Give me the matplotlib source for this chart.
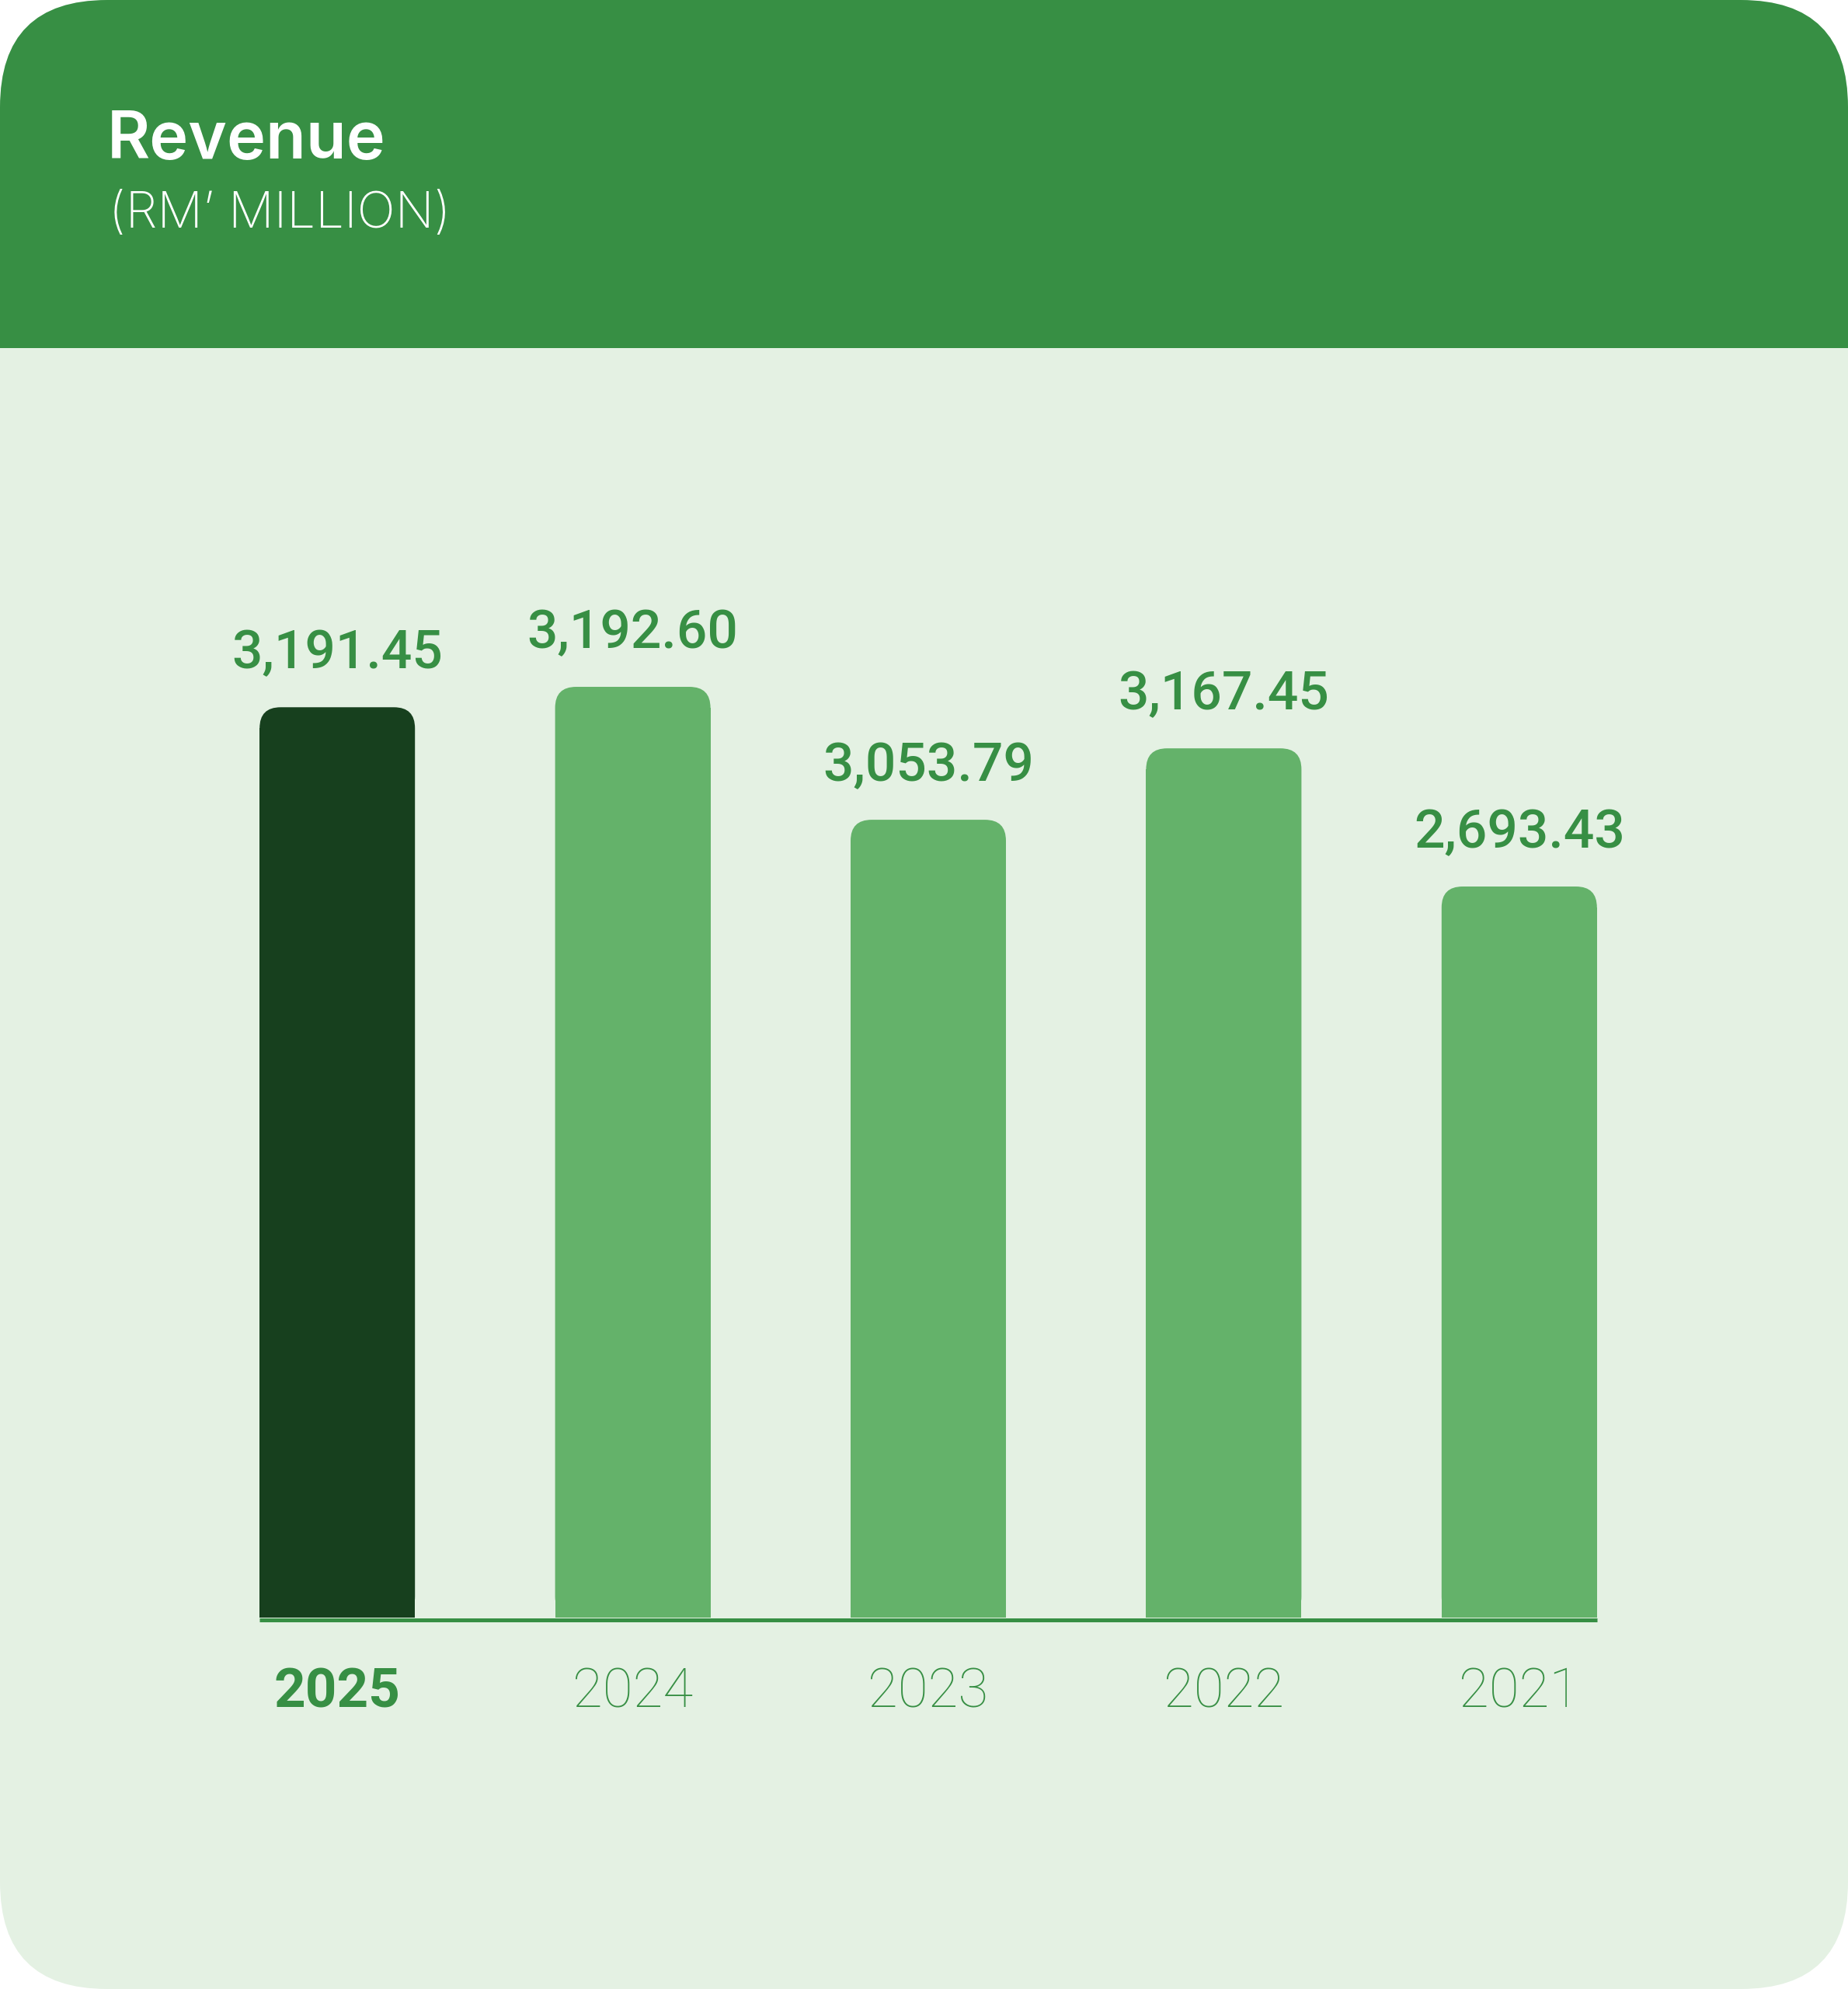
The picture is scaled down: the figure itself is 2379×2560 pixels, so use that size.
import matplotlib
matplotlib.use("Agg")
import matplotlib.pyplot as plt
from matplotlib.patches import FancyBboxPatch, Rectangle

# ---- data ----
years = ["2025", "2024", "2023", "2022", "2021"]
revenue = [3191.45, 3192.60, 3053.79, 3167.45, 2693.43]
value_labels = ["3,191.45", "3,192.60", "3,053.79", "3,167.45", "2,693.43"]
# bar heights as drawn in the reference (not strictly to scale), RM million
drawn_heights = [3123, 3193, 2737, 2982, 2508]
highlight = [True, False, False, False, False]

title = "Revenue"
subtitle = "(RM\u2019 MILLION)"

# ---- style ----
HEADER = "#378F44"
BG = "#E4F1E3"
DARK = "#17401E"
LIGHT = "#64B26A"
TEXT = "#378F44"

W, H = 2379, 2560
DPI = 100
fig = plt.figure(figsize=(W / DPI, H / DPI), dpi=DPI, facecolor="white")

# background card
bg = fig.add_axes([0, 0, 1, 1])
bg.set_xlim(0, W)
bg.set_ylim(0, H)
bg.axis("off")
R = 138
bg.add_patch(FancyBboxPatch((0, 0), W, H, boxstyle=f"round,pad=0,rounding_size={R}",
                            fc=BG, ec="none"))
hdr_bottom = H - 448
bg.add_patch(FancyBboxPatch((0, hdr_bottom), W, H - hdr_bottom,
                            boxstyle=f"round,pad=0,rounding_size={R}", fc=HEADER, ec="none"))
bg.add_patch(Rectangle((0, hdr_bottom), W, R + 10, fc=HEADER, ec="none"))

bg.text(138, H - 204, title, color="white", fontsize=61, fontfamily="Inter",
        fontweight="semibold", va="baseline", ha="left")
bg.text(140, H - 293, subtitle, color="white", fontsize=47, fontfamily="Inter",
        fontweight="light", va="baseline", ha="left")

# chart axes
left_px, right_px = 244, 2146
base_px = 2082  # from top
top_px = 600
ax = fig.add_axes([left_px / W, (H - base_px) / H, (right_px - left_px) / W,
                   (base_px - top_px) / H])
ax.set_facecolor("none")
ax.axis("off")
ax.set_xlim(-0.5, len(years) - 0.5)
ymax = 3950
ax.set_ylim(0, ymax)

x = list(range(len(years)))
width = 200 / ((right_px - left_px) / len(years))
colors = [DARK if h else LIGHT for h in highlight]
bars = ax.bar(x, drawn_heights, width=width, color=colors, zorder=2)

# convert a 27 px corner radius into data units
px_x = (len(years)) / (right_px - left_px)
px_y = ymax / (base_px - top_px)
rx = 27 * px_x
ry = 27 * px_y
for b, c in zip(bars, colors):
    bx, bw, bh = b.get_x(), b.get_width(), b.get_height()
    b.set_height(bh - ry)
    ax.add_patch(FancyBboxPatch((bx, 0), bw, bh,
                                boxstyle=f"round,pad=0,rounding_size={rx}",
                                mutation_aspect=ry / rx, fc=c, ec="none", zorder=2))

# baseline
ax.plot([x[0] - width / 2, x[-1] + width / 2], [-2.5 * px_y, -2.5 * px_y],
        color=HEADER, lw=5 * 72 / DPI, solid_capstyle="butt", clip_on=False, zorder=3)

# value labels
for xi, h, lab in zip(x, drawn_heights, value_labels):
    ax.annotate(lab, xy=(xi, h), xytext=(0, 50 * 72 / DPI), textcoords="offset points",
                ha="center", va="baseline", color=TEXT, fontsize=50,
                fontfamily="Roboto", fontweight="medium")

# year labels
for xi, yr, hl in zip(x, years, highlight):
    ax.annotate(yr, xy=(xi, 0), xytext=(0, -116 * 72 / DPI), textcoords="offset points",
                ha="center", va="baseline", color=TEXT, fontsize=51,
                fontfamily="Roboto", fontweight="bold" if hl else "light",
                annotation_clip=False)

fig.savefig("out.png", dpi=DPI, facecolor="white")
